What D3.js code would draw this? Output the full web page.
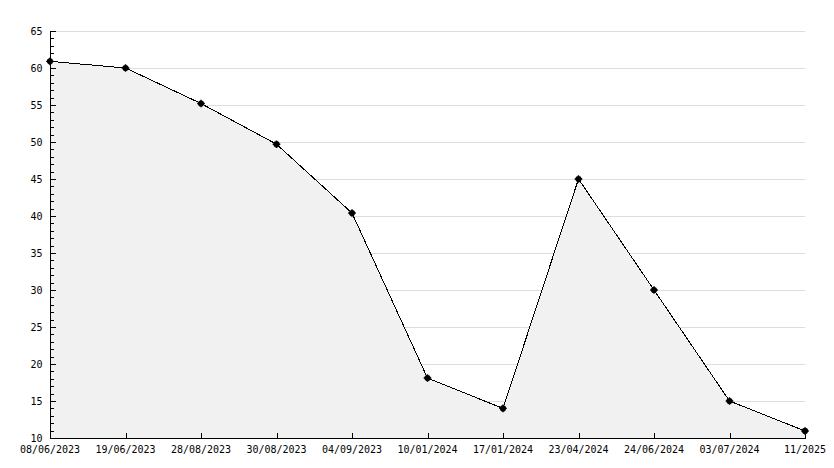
<!DOCTYPE html>
<html><head><meta charset="utf-8">
<script src="https://cdn.jsdelivr.net/npm/d3@7"></script>
<style>body{margin:0;background:#fff}svg{display:block}text{font-family:"DejaVu Sans Mono",monospace;font-size:10px}</style>
</head><body>
<script>
const categories = ["08/06/2023","19/06/2023","28/08/2023","30/08/2023","04/09/2023","10/01/2024","17/01/2024","23/04/2024","24/06/2024","03/07/2024","11/2025"];
const values = [60.9, 60.0, 55.2, 49.7, 40.4, 18.1, 14.0, 45.0, 30.0, 15.0, 10.95];
const yTicks = [10,15,20,25,30,35,40,45,50,55,60,65];

const W=834,H=468, L=50, R=805, T=31, B=438;
const svg=d3.select("body").append("svg").attr("width",W).attr("height",H);
const x=d3.scalePoint().domain(categories).range([L,R]);
const y=d3.scaleLinear().domain([10,65]).range([B,T]);

// grid
svg.append("g").selectAll("line").data(yTicks.slice(1)).join("line")
  .attr("x1",L).attr("x2",R).attr("y1",d=>Math.round(y(d))+0.5).attr("y2",d=>Math.round(y(d))+0.5)
  .attr("stroke","#dddddd").attr("stroke-width",1).attr("shape-rendering","crispEdges");

// area
const area=d3.area().x((d,i)=>x(categories[i])).y0(y(10)).y1(d=>y(d));
svg.append("path").datum(values).attr("d",area).attr("fill","#f1f1f1");

// line
const line=d3.line().x((d,i)=>x(categories[i])).y(d=>y(d));
svg.append("path").datum(values).attr("d",line).attr("fill","none").attr("stroke","#000").attr("stroke-width",1).attr("shape-rendering","crispEdges");

// markers
const mk=svg.append("g");
values.forEach((v,i)=>{
  const cx=x(categories[i]), cy=y(v);
  mk.append("circle").attr("cx",cx).attr("cy",cy).attr("r",3.1).attr("fill","#000");
  mk.append("path").attr("d",`M${cx-3.8},${cy}H${cx+3.8}M${cx},${cy-3.8}V${cy+3.8}`).attr("stroke","#000").attr("stroke-width",1.4);
});

// y axis
const ya=svg.append("g").attr("transform",`translate(${L+0.5},0)`);
const minor=d3.range(10,66);
ya.selectAll("line.minor").data(minor).join("line").attr("class","minor")
  .attr("x1",0).attr("x2",d=>d%5===0?5:3).attr("y1",d=>Math.round(y(d))+0.5).attr("y2",d=>Math.round(y(d))+0.5).attr("stroke","#000").attr("shape-rendering","crispEdges");
ya.append("line").attr("x1",0).attr("x2",0).attr("y1",T).attr("y2",B+0.5).attr("stroke","#000").attr("shape-rendering","crispEdges");
ya.selectAll("text").data(yTicks).join("text").attr("x",-8).attr("y",d=>y(d)+4).attr("text-anchor","end").attr("fill","#000").text(d=>d);

// x axis
const xa=svg.append("g").attr("transform",`translate(0,${B+0.5})`);
xa.append("line").attr("x1",L).attr("x2",R+1).attr("y1",0).attr("y2",0).attr("stroke","#000").attr("shape-rendering","crispEdges");
xa.selectAll("line.t").data(categories).join("line").attr("class","t")
  .attr("x1",d=>Math.round(x(d))+0.5).attr("x2",d=>Math.round(x(d))+0.5).attr("y1",0).attr("y2",-6).attr("stroke","#000").attr("shape-rendering","crispEdges");
xa.selectAll("text").data(categories).join("text").attr("x",d=>x(d)).attr("y",14).attr("text-anchor","middle").attr("fill","#000").text(d=>d);
</script>
</body></html>
